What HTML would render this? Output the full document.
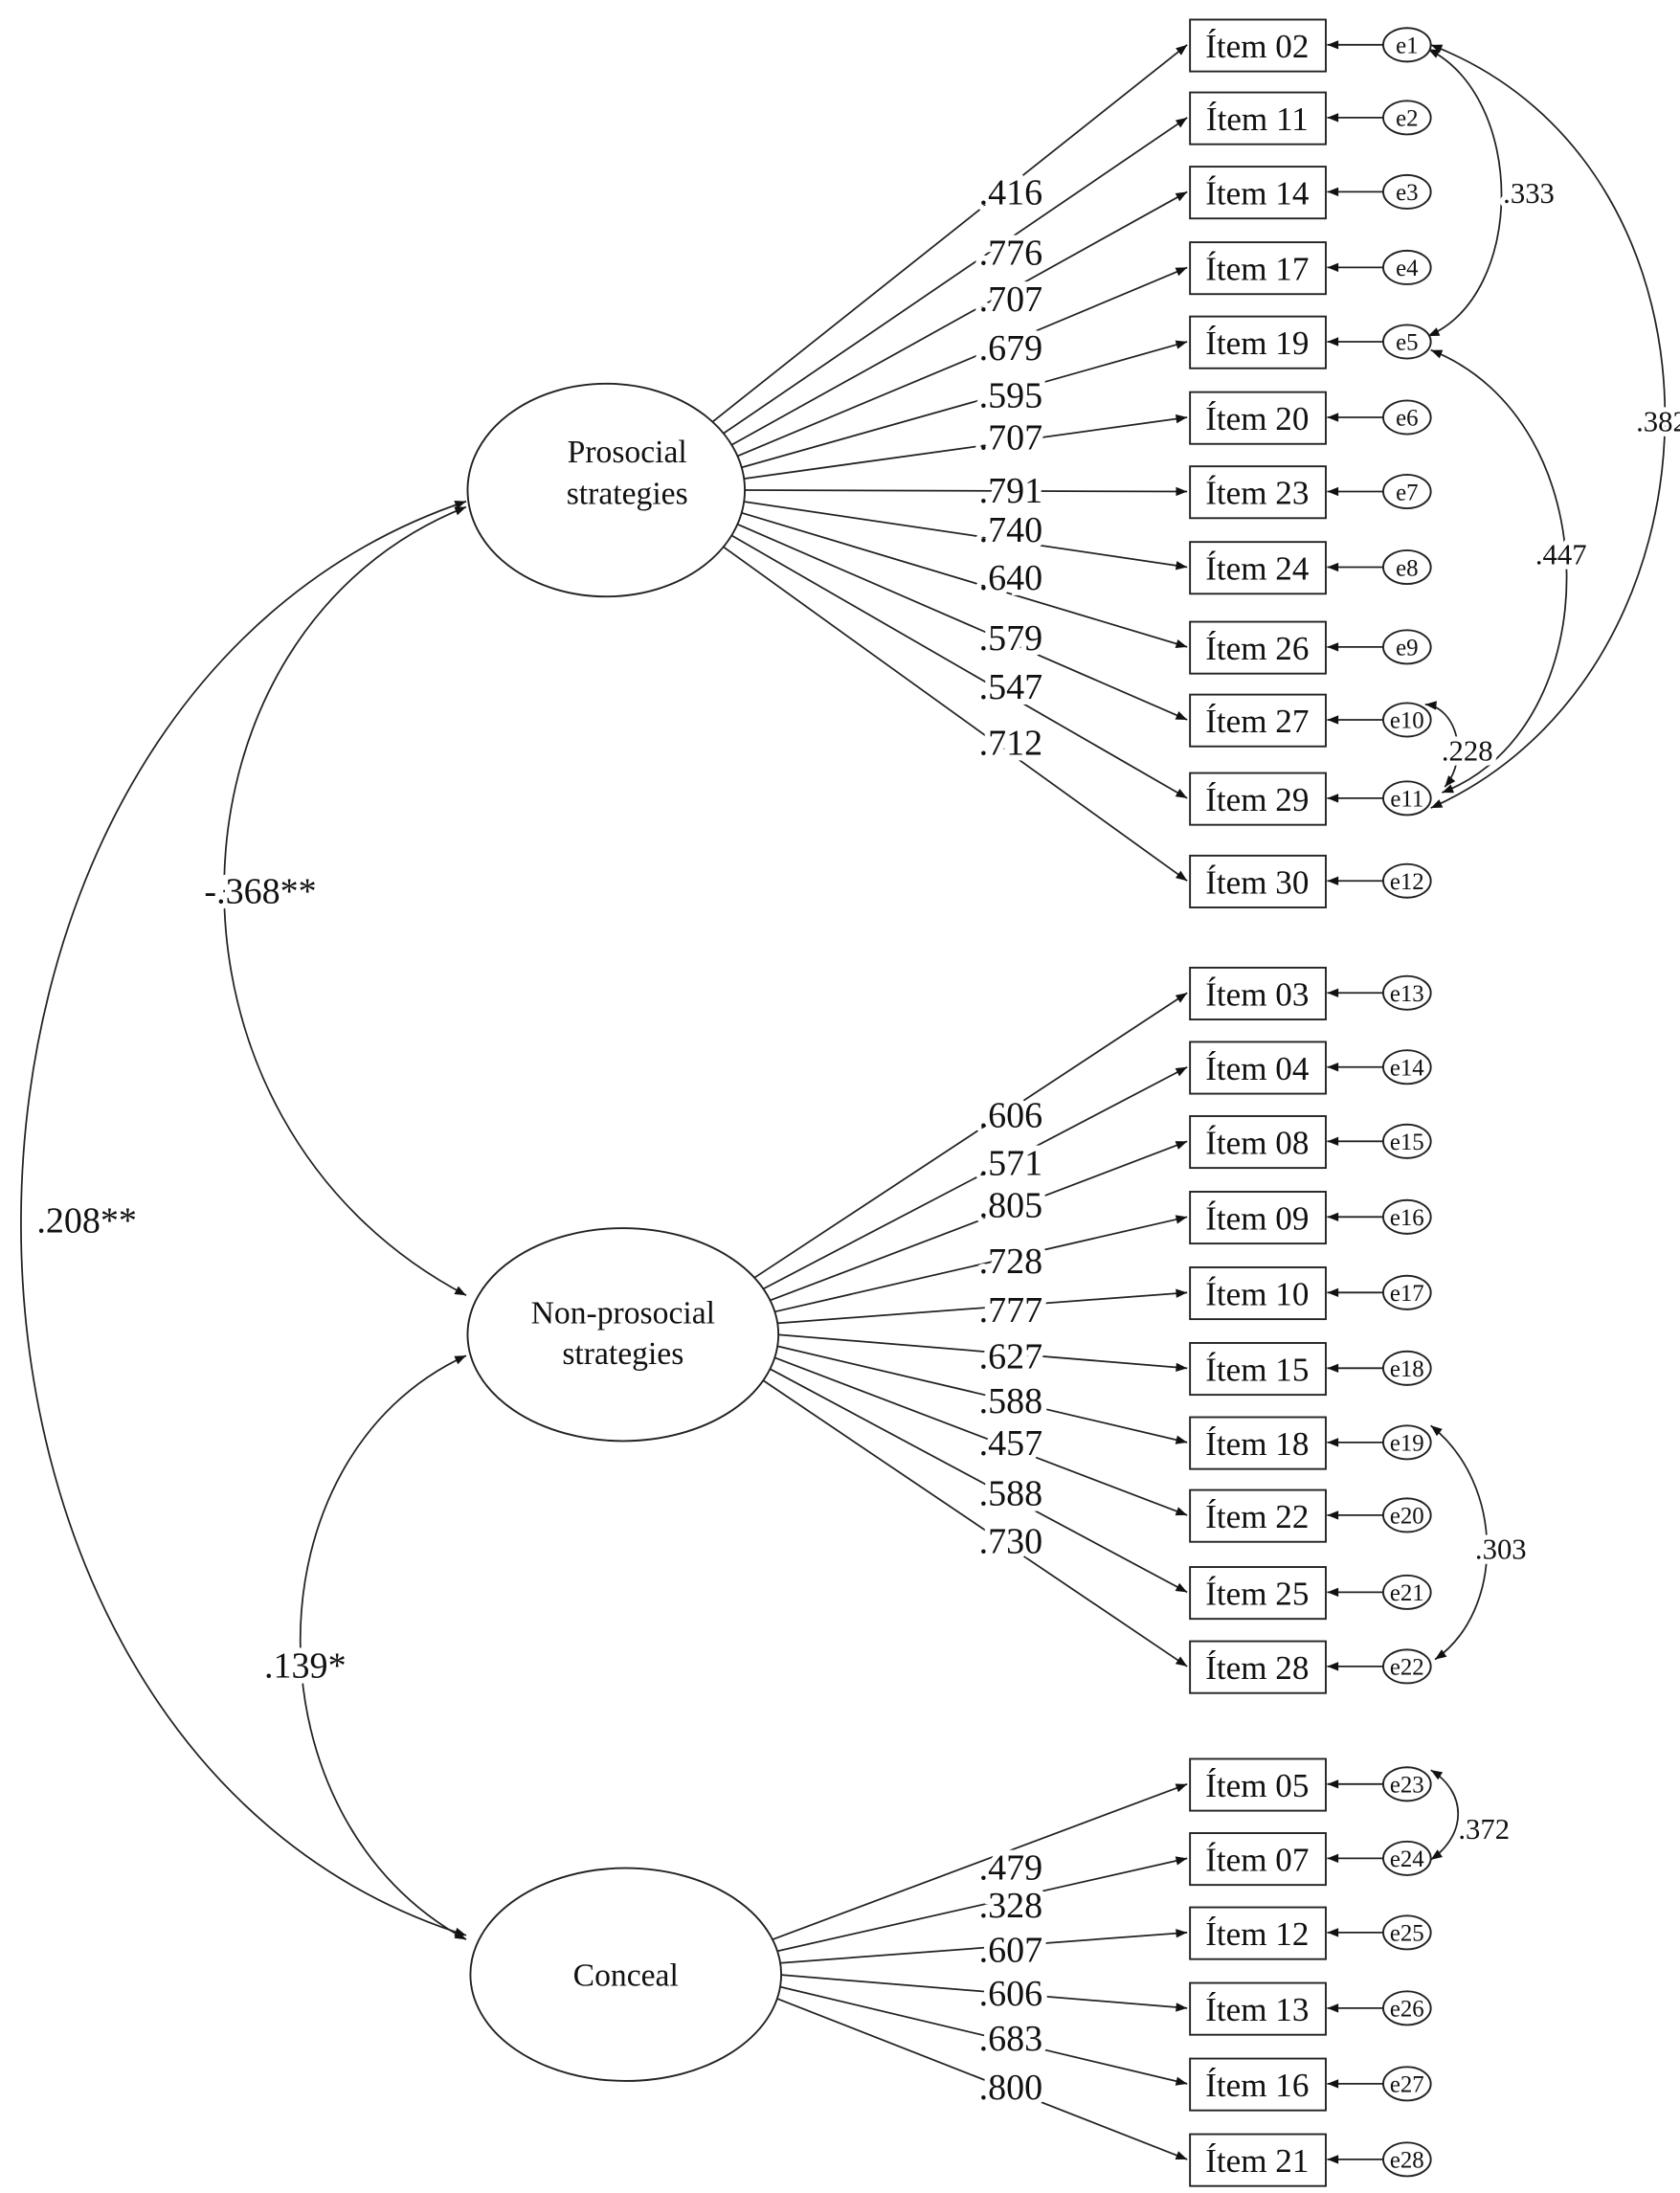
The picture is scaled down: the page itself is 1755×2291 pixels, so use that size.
<!DOCTYPE html>
<html><head><meta charset="utf-8"><style>
html,body{margin:0;padding:0;background:#fff;}
svg{display:block;}
text{font-family:"Liberation Serif",serif;fill:#111;}
.b{fill:#fff;stroke:#222;stroke-width:1.3}
.l{stroke:#222;stroke-width:1.2;fill:none}
.lb{font-size:26px;text-anchor:middle;paint-order:stroke;stroke:#fff;stroke-width:8px;fill:#111}
.it{font-size:24px;text-anchor:middle}
.e{font-size:17px;text-anchor:middle}
.cv{font-size:21px;text-anchor:middle;paint-order:stroke;stroke:#fff;stroke-width:7px}
</style></head><body>
<svg width="1755" height="2291" viewBox="0 0 1200 1566" preserveAspectRatio="none" xmlns="http://www.w3.org/2000/svg">
<defs><marker id="a" viewBox="0 0 10 10" refX="10" refY="5" markerWidth="9" markerHeight="7" markerUnits="userSpaceOnUse" orient="auto-start-reverse"><path d="M0,1 L10,5 L0,9 z" fill="#111"/></marker>
<marker id="s" viewBox="0 0 10 10" refX="10" refY="5" markerWidth="14" markerHeight="8" markerUnits="userSpaceOnUse" orient="auto-start-reverse"><path d="M0,1 L10,5 L0,9 z" fill="#111"/></marker></defs>
<rect width="1200" height="1566" fill="#fff"/>

<!-- left covariances -->
<path class="l" d="M333,358 C-91,500 -91,1250 333,1382" marker-start="url(#s)" marker-end="url(#s)"/>
<path class="l" d="M333,362 C110,450 95,800 333,925" marker-start="url(#s)" marker-end="url(#s)"/>
<path class="l" d="M333,968 C175,1040 175,1300 333,1385" marker-start="url(#s)" marker-end="url(#s)"/>
<text class="lb" x="186" y="645">-.368**</text>
<text class="lb" x="62" y="880">.208**</text>
<text class="lb" x="218" y="1198">.139*</text>

<!-- prosocial loadings -->
<g class="l" marker-end="url(#s)">
<line x1="508" y1="302" x2="848" y2="32"/><line x1="516" y1="310" x2="848" y2="84"/>
<line x1="522" y1="318" x2="848" y2="137"/><line x1="526" y1="326" x2="848" y2="191"/>
<line x1="529" y1="334" x2="848" y2="244"/><line x1="530" y1="342" x2="848" y2="298"/>
<line x1="531" y1="350" x2="848" y2="351"/><line x1="530" y1="358" x2="848" y2="405"/>
<line x1="529" y1="366" x2="848" y2="462"/><line x1="526" y1="374" x2="848" y2="514"/>
<line x1="522" y1="382" x2="848" y2="570"/><line x1="516" y1="390" x2="848" y2="629"/>
</g>
<g>
<text class="lb" x="722" y="146">.416</text><text class="lb" x="722" y="189">.776</text>
<text class="lb" x="722" y="222">.707</text><text class="lb" x="722" y="257">.679</text>
<text class="lb" x="722" y="291">.595</text><text class="lb" x="722" y="321">.707</text>
<text class="lb" x="722" y="359">.791</text><text class="lb" x="722" y="387">.740</text>
<text class="lb" x="722" y="421">.640</text><text class="lb" x="722" y="464">.579</text>
<text class="lb" x="722" y="499">.547</text><text class="lb" x="722" y="539">.712</text>
</g>

<!-- nonprosocial loadings -->
<g class="l" marker-end="url(#s)">
<line x1="538" y1="913" x2="848" y2="709"/><line x1="544" y1="921" x2="848" y2="762"/>
<line x1="549" y1="929" x2="848" y2="815"/><line x1="552" y1="937" x2="848" y2="869"/>
<line x1="554" y1="945" x2="848" y2="923"/><line x1="555" y1="953" x2="848" y2="977"/>
<line x1="554" y1="961" x2="848" y2="1030"/><line x1="552" y1="969" x2="848" y2="1082"/>
<line x1="549" y1="977" x2="848" y2="1137"/><line x1="544" y1="985" x2="848" y2="1190"/>
</g>
<g>
<text class="lb" x="722" y="805">.606</text><text class="lb" x="722" y="839">.571</text>
<text class="lb" x="722" y="869">.805</text><text class="lb" x="722" y="909">.728</text>
<text class="lb" x="722" y="944">.777</text><text class="lb" x="722" y="977">.627</text>
<text class="lb" x="722" y="1009">.588</text><text class="lb" x="722" y="1039">.457</text>
<text class="lb" x="722" y="1075">.588</text><text class="lb" x="722" y="1109">.730</text>
</g>

<!-- conceal loadings -->
<g class="l" marker-end="url(#s)">
<line x1="549" y1="1386" x2="848" y2="1274"/><line x1="552" y1="1394" x2="848" y2="1327"/>
<line x1="554" y1="1402" x2="848" y2="1380"/><line x1="555" y1="1410" x2="848" y2="1434"/>
<line x1="554" y1="1418" x2="848" y2="1488"/><line x1="552" y1="1426" x2="848" y2="1542"/>
</g>
<g>
<text class="lb" x="722" y="1342">.479</text><text class="lb" x="722" y="1369">.328</text>
<text class="lb" x="722" y="1401">.607</text><text class="lb" x="722" y="1432">.606</text>
<text class="lb" x="722" y="1464">.683</text><text class="lb" x="722" y="1499">.800</text>
</g>

<!-- latent ellipses -->
<ellipse class="b" cx="433" cy="350" rx="99" ry="76"/>
<text x="448" y="330" style="font-size:23px;text-anchor:middle">Prosocial</text>
<text x="448" y="360" style="font-size:23px;text-anchor:middle">strategies</text>
<ellipse class="b" cx="445" cy="953" rx="111" ry="76"/>
<text x="445" y="945" style="font-size:23px;text-anchor:middle">Non-prosocial</text>
<text x="445" y="974" style="font-size:23px;text-anchor:middle">strategies</text>
<ellipse class="b" cx="447" cy="1410" rx="111" ry="76"/>
<text x="447" y="1418" style="font-size:23px;text-anchor:middle">Conceal</text>

<!-- covariance among errors -->
<g class="l">
<path d="M1020,35 C1090,70 1090,210 1020,240" marker-start="url(#s)" marker-end="url(#s)"/>
<path d="M1022,32 C1250,120 1240,480 1022,577" marker-start="url(#s)" marker-end="url(#s)"/>
<path d="M1022,250 C1150,300 1150,520 1030,566" marker-start="url(#s)" marker-end="url(#s)"/>
<path d="M1018,503 C1040,505 1050,540 1032,562" marker-start="url(#s)" marker-end="url(#s)"/>
<path d="M1022,1018 C1075,1060 1075,1150 1025,1185" marker-start="url(#s)" marker-end="url(#s)"/>
<path d="M1022,1264 C1048,1280 1048,1310 1022,1328" marker-start="url(#s)" marker-end="url(#s)"/>
</g>
<text class="cv" x="1092" y="145">.333</text>
<text class="cv" x="1187" y="308">.382</text>
<text class="cv" x="1115" y="403">.447</text>
<text class="cv" x="1048" y="543">.228</text>
<text class="cv" x="1072" y="1113">.303</text>
<text class="cv" x="1060" y="1313">.372</text>

<!-- items -->
<g id="items">
<g class="l" marker-end="url(#s)">
<line x1="988" y1="32" x2="948" y2="32"/><line x1="988" y1="84" x2="948" y2="84"/>
<line x1="988" y1="137" x2="948" y2="137"/><line x1="988" y1="191" x2="948" y2="191"/>
<line x1="988" y1="244" x2="948" y2="244"/><line x1="988" y1="298" x2="948" y2="298"/>
<line x1="988" y1="351" x2="948" y2="351"/><line x1="988" y1="405" x2="948" y2="405"/>
<line x1="988" y1="462" x2="948" y2="462"/><line x1="988" y1="514" x2="948" y2="514"/>
<line x1="988" y1="570" x2="948" y2="570"/><line x1="988" y1="629" x2="948" y2="629"/>
<line x1="988" y1="709" x2="948" y2="709"/><line x1="988" y1="762" x2="948" y2="762"/>
<line x1="988" y1="815" x2="948" y2="815"/><line x1="988" y1="869" x2="948" y2="869"/>
<line x1="988" y1="923" x2="948" y2="923"/><line x1="988" y1="977" x2="948" y2="977"/>
<line x1="988" y1="1030" x2="948" y2="1030"/><line x1="988" y1="1082" x2="948" y2="1082"/>
<line x1="988" y1="1137" x2="948" y2="1137"/><line x1="988" y1="1190" x2="948" y2="1190"/>
<line x1="988" y1="1274" x2="948" y2="1274"/><line x1="988" y1="1327" x2="948" y2="1327"/>
<line x1="988" y1="1380" x2="948" y2="1380"/><line x1="988" y1="1434" x2="948" y2="1434"/>
<line x1="988" y1="1488" x2="948" y2="1488"/><line x1="988" y1="1542" x2="948" y2="1542"/>
</g>
<g class="b">
<rect x="850" y="14" width="97" height="37"/><rect x="850" y="66" width="97" height="37"/>
<rect x="850" y="119" width="97" height="37"/><rect x="850" y="173" width="97" height="37"/>
<rect x="850" y="226" width="97" height="37"/><rect x="850" y="280" width="97" height="37"/>
<rect x="850" y="333" width="97" height="37"/><rect x="850" y="387" width="97" height="37"/>
<rect x="850" y="444" width="97" height="37"/><rect x="850" y="496" width="97" height="37"/>
<rect x="850" y="552" width="97" height="37"/><rect x="850" y="611" width="97" height="37"/>
<rect x="850" y="691" width="97" height="37"/><rect x="850" y="744" width="97" height="37"/>
<rect x="850" y="797" width="97" height="37"/><rect x="850" y="851" width="97" height="37"/>
<rect x="850" y="905" width="97" height="37"/><rect x="850" y="959" width="97" height="37"/>
<rect x="850" y="1012" width="97" height="37"/><rect x="850" y="1064" width="97" height="37"/>
<rect x="850" y="1119" width="97" height="37"/><rect x="850" y="1172" width="97" height="37"/>
<rect x="850" y="1256" width="97" height="37"/><rect x="850" y="1309" width="97" height="37"/>
<rect x="850" y="1362" width="97" height="37"/><rect x="850" y="1416" width="97" height="37"/>
<rect x="850" y="1470" width="97" height="37"/><rect x="850" y="1524" width="97" height="37"/>
</g>
<g class="it">
<text x="898" y="41">Ítem 02</text><text x="898" y="93">Ítem 11</text>
<text x="898" y="146">Ítem 14</text><text x="898" y="200">Ítem 17</text>
<text x="898" y="253">Ítem 19</text><text x="898" y="307">Ítem 20</text>
<text x="898" y="360">Ítem 23</text><text x="898" y="414">Ítem 24</text>
<text x="898" y="471">Ítem 26</text><text x="898" y="523">Ítem 27</text>
<text x="898" y="579">Ítem 29</text><text x="898" y="638">Ítem 30</text>
<text x="898" y="718">Ítem 03</text><text x="898" y="771">Ítem 04</text>
<text x="898" y="824">Ítem 08</text><text x="898" y="878">Ítem 09</text>
<text x="898" y="932">Ítem 10</text><text x="898" y="986">Ítem 15</text>
<text x="898" y="1039">Ítem 18</text><text x="898" y="1091">Ítem 22</text>
<text x="898" y="1146">Ítem 25</text><text x="898" y="1199">Ítem 28</text>
<text x="898" y="1283">Ítem 05</text><text x="898" y="1336">Ítem 07</text>
<text x="898" y="1389">Ítem 12</text><text x="898" y="1443">Ítem 13</text>
<text x="898" y="1497">Ítem 16</text><text x="898" y="1551">Ítem 21</text>
</g>
<g class="b">
<ellipse cx="1005" cy="32" rx="17" ry="12"/><ellipse cx="1005" cy="84" rx="17" ry="12"/>
<ellipse cx="1005" cy="137" rx="17" ry="12"/><ellipse cx="1005" cy="191" rx="17" ry="12"/>
<ellipse cx="1005" cy="244" rx="17" ry="12"/><ellipse cx="1005" cy="298" rx="17" ry="12"/>
<ellipse cx="1005" cy="351" rx="17" ry="12"/><ellipse cx="1005" cy="405" rx="17" ry="12"/>
<ellipse cx="1005" cy="462" rx="17" ry="12"/><ellipse cx="1005" cy="514" rx="17" ry="12"/>
<ellipse cx="1005" cy="570" rx="17" ry="12"/><ellipse cx="1005" cy="629" rx="17" ry="12"/>
<ellipse cx="1005" cy="709" rx="17" ry="12"/><ellipse cx="1005" cy="762" rx="17" ry="12"/>
<ellipse cx="1005" cy="815" rx="17" ry="12"/><ellipse cx="1005" cy="869" rx="17" ry="12"/>
<ellipse cx="1005" cy="923" rx="17" ry="12"/><ellipse cx="1005" cy="977" rx="17" ry="12"/>
<ellipse cx="1005" cy="1030" rx="17" ry="12"/><ellipse cx="1005" cy="1082" rx="17" ry="12"/>
<ellipse cx="1005" cy="1137" rx="17" ry="12"/><ellipse cx="1005" cy="1190" rx="17" ry="12"/>
<ellipse cx="1005" cy="1274" rx="17" ry="12"/><ellipse cx="1005" cy="1327" rx="17" ry="12"/>
<ellipse cx="1005" cy="1380" rx="17" ry="12"/><ellipse cx="1005" cy="1434" rx="17" ry="12"/>
<ellipse cx="1005" cy="1488" rx="17" ry="12"/><ellipse cx="1005" cy="1542" rx="17" ry="12"/>
</g>
<g class="e">
<text x="1005" y="38">e1</text><text x="1005" y="90">e2</text><text x="1005" y="143">e3</text>
<text x="1005" y="197">e4</text><text x="1005" y="250">e5</text><text x="1005" y="304">e6</text>
<text x="1005" y="357">e7</text><text x="1005" y="411">e8</text><text x="1005" y="468">e9</text>
<text x="1005" y="520">e10</text><text x="1005" y="576">e11</text><text x="1005" y="635">e12</text>
<text x="1005" y="715">e13</text><text x="1005" y="768">e14</text><text x="1005" y="821">e15</text>
<text x="1005" y="875">e16</text><text x="1005" y="929">e17</text><text x="1005" y="983">e18</text>
<text x="1005" y="1036">e19</text><text x="1005" y="1088">e20</text><text x="1005" y="1143">e21</text>
<text x="1005" y="1196">e22</text><text x="1005" y="1280">e23</text><text x="1005" y="1333">e24</text>
<text x="1005" y="1386">e25</text><text x="1005" y="1440">e26</text><text x="1005" y="1494">e27</text>
<text x="1005" y="1548">e28</text>
</g>
</g>
</svg>
</body></html>
